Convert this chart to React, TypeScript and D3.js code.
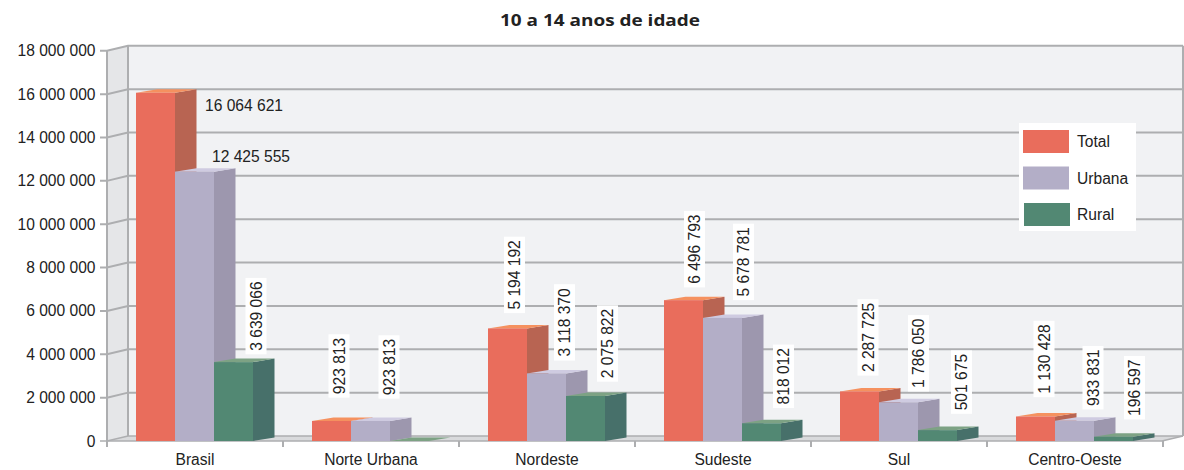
import React from "react";
import * as d3 from "d3";

const title = "10 a 14 anos de idade";
const categories = ["Brasil", "Norte Urbana", "Nordeste", "Sudeste", "Sul", "Centro-Oeste"];
const seriesNames = ["Total", "Urbana", "Rural"];
const total = [16064621, 923813, 5194192, 6496793, 2287725, 1130428];
const urbana = [12425555, 923813, 3118370, 5678781, 1786050, 933831];
const rural = [3639066, 0, 2075822, 818012, 501675, 196597];
const yTicks = [0, 2000000, 4000000, 6000000, 8000000, 10000000, 12000000, 14000000, 16000000, 18000000];

// label box centres relative to the front-top-left corner of each bar [dx, dy]
const totalLabelNudge = [[108, 13], [27, -55], [26.5, -53.5], [30.5, -51], [28, -54], [28, -57.5]];
const urbanaLabelNudge = [[76, -15], [38, -54], [37.5, -51], [40.5, -56], [39.5, -49], [38, -43]];
const ruralLabelNudge = [[42, -46], null, [41.5, -52.5], [41.5, -47], [43.5, -48], [40.5, -49]];
// Labels that sit flat instead of rotated: [category, series]
const flatLabels = ["0-0", "0-1"];

const colors = [
  { front: "#E96D5C", side: "#B86452", top: "#F5915F" },
  { front: "#B3AEC7", side: "#9D97AE", top: "#CFCBE1" },
  { front: "#528873", side: "#47706A", top: "#7DA284" },
];

const fmt = (v: number) => String(v).replace(/\B(?=(\d{3})+(?!\d))/g, " ");

const W = 1184, H = 470;
const FONT = "'Liberation Sans', Arial, sans-serif";
const FS = 15.6;
const depthX = 21, depthY = 5, barDepthX = 21.5, barDY = 3.5, barW = 39;
const x0 = 107, step = 176;
const y = d3.scaleLinear().domain([0, 18000000]).range([441, 50.8]);
const xScale = d3.scaleLinear().domain([0, categories.length]).range([x0, x0 + step * categories.length]);
const rightBack = 1183;
const grid = "#ADAEB0";

const poly = (pts: number[][]) => pts.map((p) => p.join(",")).join(" ");

function Bar({ x, v, c }: { x: number; v: number; c: { front: string; side: string; top: string } }) {
  const t = y(v), b = y(0);
  const dx = barDepthX;
  return (
    <g>
      <polygon points={poly([[x + barW, t], [x + barW + dx, t - barDY], [x + barW + dx, b - barDY], [x + barW, b]])} fill={c.side} />
      <polygon points={poly([[x, t], [x + dx, t - barDY], [x + barW + dx, t - barDY], [x + barW, t]])} fill={c.top} />
      {v > 0 && <rect x={x} y={t} width={barW} height={b - t} fill={c.front} />}
    </g>
  );
}

function ValueLabel({ x, v, nudge, flat }: { x: number; v: number; nudge: number[]; flat: boolean }) {
  const cx = x + nudge[0], cy = y(v) + nudge[1];
  const txt = fmt(v);
  const groups = txt.split(" ");
  const len = (txt.length - groups.length + 1) * FS * 0.556 + (groups.length - 1) * FS * 0.278;
  const hw = len / 2 + 3.5, hh = 10.5;
  return flat ? (
    <text x={cx} y={cy + 5.5} textAnchor="middle" fontSize={FS} fill="#222">{txt}</text>
  ) : (
    <g>
      <rect x={cx - hh} y={cy - hw} width={hh * 2} height={hw * 2} fill="#fff" />
      <text transform={`translate(${cx + 5.5},${cy}) rotate(-90)`} textAnchor="middle" fontSize={FS} fill="#222">{txt}</text>
    </g>
  );
}

export default function App() {
  const series = [total, urbana, rural];
  const nudges = [totalLabelNudge, urbanaLabelNudge, ruralLabelNudge];
  const barX = (ci: number, si: number) => xScale(ci) + 29 + si * barW;
  return (
    <svg width={W} height={H} style={{ position: "absolute", left: 0, top: 0, background: "#fff" }} fontFamily={FONT}>
      <text x={600} y={25.5} textAnchor="middle" fontSize={16.5} fontWeight="bold" fontFamily="'Open Sans', sans-serif" textLength={200} lengthAdjust="spacingAndGlyphs" fill="#222">{title}</text>

      <rect x={x0 + depthX} y={y(18000000) - depthY} width={rightBack - x0 - depthX} height={y(0) - y(18000000)} fill="#F1F2F4" />
      <polygon points={poly([[x0, y(18000000)], [x0 + depthX, y(18000000) - depthY], [x0 + depthX, y(0) - depthY], [x0, y(0)]])} fill="#E5E6E8" />
      <polygon points={poly([[x0, y(0)], [x0 + depthX, y(0) - depthY], [rightBack, y(0) - depthY], [rightBack - depthX, y(0)]])} fill="#D9DADC" />

      {yTicks.map((t) => (
        <g key={t}>
          <polyline points={poly([[x0 - 7, y(t)], [x0, y(t)], [x0 + depthX, y(t) - depthY], [rightBack, y(t) - depthY]])} fill="none" stroke={grid} strokeWidth={t === 0 ? 1.5 : 2} />
          <text x={95.5} y={y(t) + 5.5} textAnchor="end" fontSize={FS} fill="#222">{fmt(t)}</text>
        </g>
      ))}
      <line x1={x0} y1={y(18000000)} x2={x0} y2={447} stroke={grid} strokeWidth={2} />
      <line x1={x0 + depthX} y1={y(18000000) - depthY} x2={x0 + depthX} y2={y(0) - depthY} stroke={grid} strokeWidth={2} />
      <line x1={rightBack} y1={y(18000000) - depthY} x2={rightBack} y2={y(0) - depthY} stroke={grid} strokeWidth={2} />
      <line x1={x0} y1={y(0)} x2={rightBack - depthX} y2={y(0)} stroke={grid} strokeWidth={1.5} />
      <line x1={rightBack - depthX} y1={y(0)} x2={rightBack} y2={y(0) - depthY} stroke={grid} strokeWidth={1.5} />
      {d3.range(1, categories.length + 1).map((i) => (
        <line key={i} x1={xScale(i)} y1={y(0)} x2={xScale(i)} y2={447} stroke={grid} strokeWidth={2} />
      ))}

      {categories.map((cat, ci) => (
        <g key={cat}>
          {series.map((s, si) => (
            <Bar key={si} x={barX(ci, si)} v={s[ci]} c={colors[si]} />
          ))}
          <text x={xScale(ci + 0.5)} y={465} textAnchor="middle" fontSize={FS} fill="#222">{cat}</text>
        </g>
      ))}

      {categories.map((cat, ci) =>
        series.map((s, si) => {
          const n = nudges[si][ci];
          if (!n) return null;
          return <ValueLabel key={cat + si} x={barX(ci, si)} v={s[ci]} nudge={n} flat={flatLabels.includes(`${ci}-${si}`)} />;
        })
      )}

      <rect x={1019} y={123} width={117} height={108} fill="#fff" />
      {seriesNames.map((name, i) => (
        <g key={name}>
          <rect x={i === 2 ? 1024 : 1023} y={130 + i * 36.5} width={46} height={23} fill={colors[i].front} />
          <text x={1077} y={147 + i * 36.5} fontSize={FS} fill="#222">{name}</text>
        </g>
      ))}
    </svg>
  );
}
